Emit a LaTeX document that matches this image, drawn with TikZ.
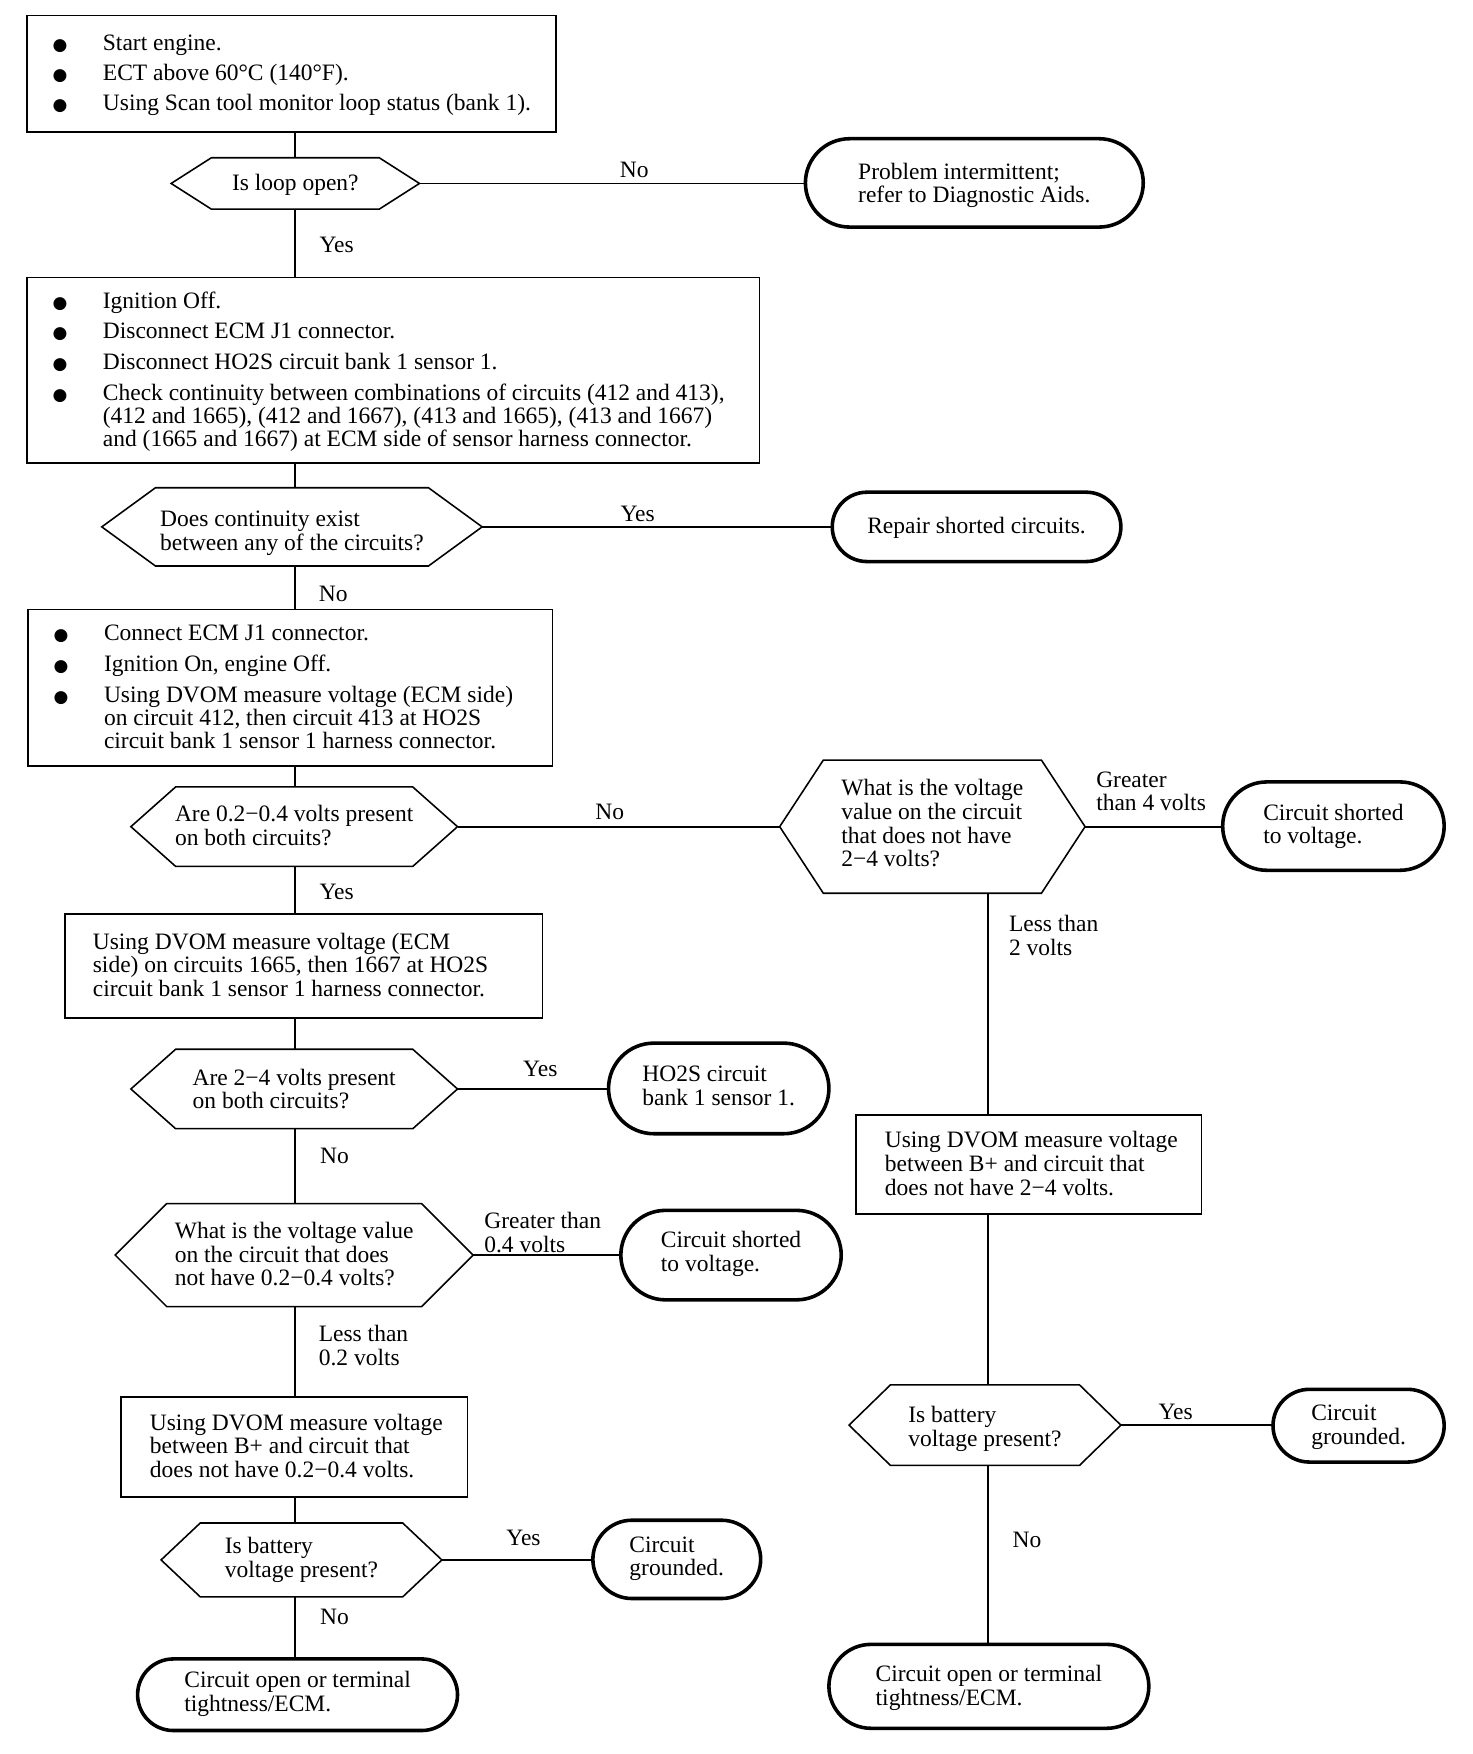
\documentclass[tikz,border=0pt]{standalone}
\usepackage{fontspec}
\setmainfont{Liberation Serif}
\newfontfamily\bulfont{DejaVu Sans}
\usetikzlibrary{shapes.misc}
\newcommand\bul{\makebox[22.5pt][l]{\bulfont\fontsize{7.6}{7.6}\selectfont ●}}
\newcommand\blist[2]{\raisebox{-1pt}[\height][\depth]{\makebox[#1][l]{\renewcommand\arraystretch{0.95}\begin{tabular}{@{}l@{}l@{}}#2\end{tabular}}}}
\newcommand\plines[2]{\raisebox{-1pt}[\height][\depth]{\makebox[#1][l]{\renewcommand\arraystretch{1.0}\begin{tabular}{@{}l@{}}#2\end{tabular}}}}
\newcommand\tx[2][1pt]{\raisebox{-#1}[\height][\depth]{\begin{tabular}{@{}l@{}}#2\end{tabular}}}
\newcommand\hexo[2]{\draw[hexline] ([xshift=#2]#1.north west) -- ([xshift=-#2]#1.north east) -- (#1.east) -- ([xshift=-#2]#1.south east) -- ([xshift=#2]#1.south west) -- (#1.west) -- cycle;}
\tikzset{
  base/.style={font=\fontsize{10.5}{10.6}\selectfont, inner sep=0pt, outer sep=0pt},
  boxnode/.style={base, draw, line width=0.7pt, rectangle, inner ysep=0pt},
  hexnode/.style={base, rectangle},
  hexline/.style={line width=0.7pt, line join=miter},
  termnode/.style={base, draw, line width=1.6pt, rounded rectangle},
  lbl/.style={base, align=left},
  conn/.style={line width=0.75pt},
}
\begin{document}
\begin{tikzpicture}[x=0.5pt,y=-0.5pt]
\useasboundingbox (0,0) rectangle (1316,1568);
\fill[white] (0,0) rectangle (1316,1568);
\coordinate (L) at (264,0);
\coordinate (R) at (883,0);

% ---- nodes ----
\node[boxnode, inner xsep=11.5pt, minimum height=52pt] (b1) at (260.5,66)
 {\blist{213.5pt}{\bul & Start engine.\\[3.2pt]
  \bul & ECT above 60°C (140°F).\\[3.2pt]
  \bul & Using Scan tool monitor loop status (bank 1).}};

\node[hexnode, minimum width=111pt, minimum height=23pt] (h1) at (264,164) {\tx{Is loop open?}};
\hexo{h1}{18pt}
\node[termnode, minimum width=151pt, minimum height=39.5pt] (t1) at (871,163.5) {\tx[1.5pt]{Problem intermittent;\\refer to Diagnostic Aids.}};

\node[boxnode, inner xsep=11.5pt, minimum height=83pt] (b2) at (351.5,331)
 {\blist{304.5pt}{\bul & Ignition Off.\\[3.4pt]
  \bul & Disconnect ECM J1 connector.\\[3.4pt]
  \bul & Disconnect HO2S circuit bank 1 sensor 1.\\[3.4pt]
  \bul & Check continuity between combinations of circuits (412 and 413),\\
       & (412 and 1665), (412 and 1667), (413 and 1665), (413 and 1667)\\
       & and (1665 and 1667) at ECM side of sensor harness connector.}};

\node[hexnode, minimum width=170pt, minimum height=35pt] (h2) at (261,471) {\tx[3pt]{Does continuity exist\\between any of the circuits?}};
\hexo{h2}{24pt}
\node[termnode, minimum width=129pt, minimum height=31pt] (t2) at (873,471) {\tx{Repair shorted circuits.}};

\node[boxnode, inner xsep=11.5pt, minimum height=70pt] (b3) at (259.5,615)
 {\blist{211.5pt}{\bul & Connect ECM J1 connector.\\[3.4pt]
  \bul & Ignition On, engine Off.\\[3.4pt]
  \bul & Using DVOM measure voltage (ECM side)\\
       & on circuit 412, then circuit 413 at HO2S\\
       & circuit bank 1 sensor 1 harness connector.}};

\node[hexnode, minimum width=146pt, minimum height=35.5pt] (h3) at (263,739) {\tx{Are 0.2−0.4 volts present\\on both circuits?}};
\hexo{h3}{20pt}
\node[hexnode, minimum width=136.5pt, minimum height=59.5pt] (h4) at (833.5,739) {\tx[0pt]{What is the voltage\\value on the circuit\\that does not have\\2−4 volts?}};
\hexo{h4}{19.5pt}
\node[termnode, minimum width=99pt, minimum height=39.5pt] (t3) at (1192,738.5) {\tx[0.5pt]{Circuit shorted\\to voltage.}};

\node[boxnode, inner xsep=12.5pt, minimum height=46.5pt] (b4) at (271.5,863.5)
 {\plines{188.5pt}{Using DVOM measure voltage (ECM\\
  side) on circuits 1665, then 1667 at HO2S\\
  circuit bank 1 sensor 1 harness connector.}};

\node[hexnode, minimum width=146pt, minimum height=35.5pt] (h5) at (263,973.5) {\tx[1.5pt]{Are 2−4 volts present\\on both circuits?}};
\hexo{h5}{20pt}
\node[termnode, minimum width=98.5pt, minimum height=40.5pt] (t4) at (642.5,973) {\tx[0pt]{HO2S circuit\\bank 1 sensor 1.}};

\node[hexnode, minimum width=160pt, minimum height=46pt] (h6) at (263,1122) {\tx{What is the voltage value\\on the circuit that does\\not have 0.2−0.4 volts?}};
\hexo{h6}{23pt}
\node[termnode, minimum width=98.5pt, minimum height=40pt] (t5) at (653.5,1122) {\tx[0pt]{Circuit shorted\\to voltage.}};

\node[boxnode, inner xsep=13pt, minimum height=44.5pt] (b6) at (263,1293.5)
 {\plines{129pt}{Using DVOM measure voltage\\
  between B+ and circuit that\\
  does not have 0.2−0.4 volts.}};

\node[hexnode, minimum width=125.5pt, minimum height=33pt] (h8) at (269.5,1394.5) {\tx[0.5pt]{Is battery\\voltage present?}};
\hexo{h8}{17.5pt}
\node[termnode, minimum width=75pt, minimum height=35pt] (t9) at (605,1394) {\tx[0pt]{Circuit\\grounded.}};
\node[termnode, minimum width=143pt, minimum height=32pt] (t10) at (266,1515) {\tx[0pt]{Circuit open or terminal\\tightness/ECM.}};

\node[boxnode, inner xsep=13pt, minimum height=44pt] (b5) at (919.5,1041)
 {\plines{128.5pt}{Using DVOM measure voltage\\
  between B+ and circuit that\\
  does not have 2−4 volts.}};

\node[hexnode, minimum width=121.5pt, minimum height=36pt] (h7) at (880.5,1274) {\tx[2pt]{Is battery\\voltage present?}};
\hexo{h7}{18.5pt}
\node[termnode, minimum width=76.5pt, minimum height=32.5pt] (t7) at (1214.5,1274.5) {\tx{Circuit\\grounded.}};
\node[termnode, minimum width=143pt, minimum height=37.5pt] (t8) at (884,1507.5) {\tx{Circuit open or terminal\\tightness/ECM.}};

% ---- connectors ----
\draw[conn] (b1.south -| L) -- (h1.north -| L);
\draw[conn] (h1.east) -- (h1.east -| t1.west);
\draw[conn] (h1.south -| L) -- (b2.north -| L);
\draw[conn] (b2.south -| L) -- (h2.north -| L);
\draw[conn] (h2.east) -- (h2.east -| t2.west);
\draw[conn] (h2.south -| L) -- (b3.north -| L);
\draw[conn] (b3.south -| L) -- (h3.north -| L);
\draw[conn] (h3.east) -- (h3.east -| h4.west);
\draw[conn] (h4.east) -- (h4.east -| t3.west);
\draw[conn] (h4.south -| R) -- (b5.north -| R);
\draw[conn] (b5.south -| R) -- (h7.north -| R);
\draw[conn] (h7.east) -- (h7.east -| t7.west);
\draw[conn] (h7.south -| R) -- (t8.north -| R);
\draw[conn] (h3.south -| L) -- (b4.north -| L);
\draw[conn] (b4.south -| L) -- (h5.north -| L);
\draw[conn] (h5.east) -- (h5.east -| t4.west);
\draw[conn] (h5.south -| L) -- (h6.north -| L);
\draw[conn] (h6.east) -- (h6.east -| t5.west);
\draw[conn] (h6.south -| L) -- (b6.north -| L);
\draw[conn] (b6.south -| L) -- (h8.north -| L);
\draw[conn] (h8.east) -- (h8.east -| t9.west);
\draw[conn] (h8.south -| L) -- (t10.north -| L);

% ---- labels ----
\node[lbl] (l1) at (567,152) {No};
\node[lbl] (l2) at (301,219) {Yes};
\node[lbl] (l3) at (570,459) {Yes};
\node[lbl] (l4) at (298,531) {No};
\node[lbl] (l5) at (545,726) {No};
\node[lbl] (l6) at (301,797) {Yes};
\node[lbl, anchor=west] (l7) at (980,707.5) {Greater\\than 4 volts};
\node[lbl, anchor=west] (l8) at (902,836.5) {Less than\\2 volts};
\node[lbl] (l9) at (483,956) {Yes};
\node[lbl] (l10) at (299,1033) {No};
\node[lbl, anchor=west] (l11) at (433,1101.5) {Greater than\\0.4 volts};
\node[lbl, anchor=west] (l12) at (285,1203) {Less than\\0.2 volts};
\node[lbl] (l13) at (468,1375) {Yes};
\node[lbl] (l14) at (299,1445) {No};
\node[lbl] (l15) at (1051,1262) {Yes};
\node[lbl] (l16) at (918,1377) {No};
\end{tikzpicture}
\end{document}
